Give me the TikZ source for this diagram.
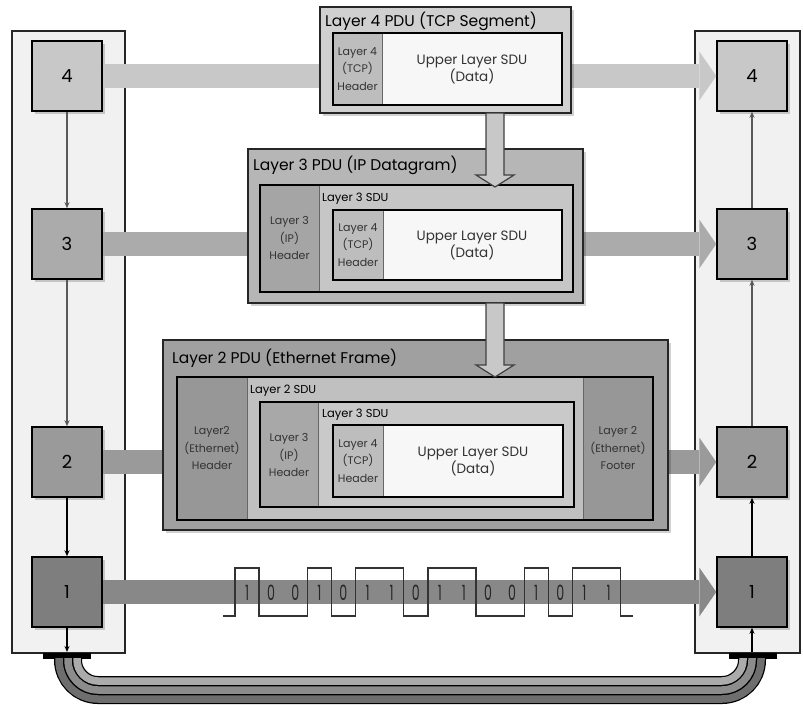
\documentclass[tikz,border=0pt]{standalone}
\usepackage{fontspec}
\setmainfont{Poppins}
\usetikzlibrary{arrows.meta,positioning,shadows}

\definecolor{panelfill}{HTML}{F1F1F1}
\definecolor{cfour}{HTML}{C8C8C8}
\definecolor{cthree}{HTML}{ABABAB}
\definecolor{ctwo}{HTML}{9A9A9A}
\definecolor{cone}{HTML}{7E7E7E}
\definecolor{bandone}{HTML}{888888}
\definecolor{datafill}{HTML}{F7F7F7}
\definecolor{tcphdr}{HTML}{BDBDBD}
\definecolor{segout}{HTML}{D0D0D0}
\definecolor{dgramout}{HTML}{B6B6B6}
\definecolor{dgramsdu}{HTML}{C6C6C6}
\definecolor{iphdr}{HTML}{A5A5A5}
\definecolor{frameout}{HTML}{A0A0A0}
\definecolor{framesdu}{HTML}{C0C0C0}
\definecolor{ethhdr}{HTML}{979797}
\definecolor{iphdrb}{HTML}{A8A8A8}
\definecolor{dgramsdub}{HTML}{C9C9C9}
\definecolor{strandA}{HTML}{6E6E6E}
\definecolor{strandB}{HTML}{8C8C8C}
\definecolor{strandC}{HTML}{ABABAB}

\tikzset{
  panel/.style={draw=black!85, line width=1.2pt, fill=panelfill},
  layerbox/.style={draw=black, line width=1.5pt, minimum width=70pt, minimum height=70pt,
    inner sep=0pt, font=\fontsize{18}{18}\selectfont,
    drop shadow={shadow xshift=2.5pt, shadow yshift=-2.5pt, fill=black, opacity=0.18}},
  band/.style={line width=24pt, -{Triangle[length=17pt, width=49pt, line width=0pt]}},
  grayarrow/.style={draw=black!65, line width=1.2pt, -{Stealth[length=6pt, width=5pt]}},
  blackarrow/.style={draw=black, line width=1.1pt, -{Stealth[length=6pt, width=5pt]}},
  pdu/.style={draw=black!85, line width=1.4pt,
    drop shadow={shadow xshift=3pt, shadow yshift=-3pt, fill=black, opacity=0.18}},
  frame/.style={draw=black, line width=1.5pt},
  sep/.style={draw=black!60, line width=1pt},
  title/.style={anchor=west, inner sep=0pt, font=\fontsize{15.5}{17}\selectfont},
  sdulabel/.style={anchor=west, inner sep=0pt, font=\fontsize{11.5}{13}\selectfont},
  hdr/.style={align=center, inner sep=0pt, text=black!80, font=\fontsize{11}{17.5}\selectfont},
  data/.style={align=center, inner sep=0pt, text=black!80, font=\fontsize{13.5}{17}\selectfont},
  blockdown/.style={draw=black!75, line width=1.2pt, fill=cfour},
  bit/.style={inner sep=0pt, text=black!85, font=\fontsize{21}{21}\selectfont}
}

\begin{document}
\begin{tikzpicture}[x=1pt, y=-1pt]
  \useasboundingbox (0,0) rectangle (803,704);

  % side panels
  \draw[panel] (12,31) rectangle (125,653);
  \draw[panel] (695,31) rectangle (800,653);

  % layers left and right
  \node[layerbox, fill=cfour]  (L4) at (67,76)  {4};
  \node[layerbox, fill=cthree] (L3) at (67,244) {3};
  \node[layerbox, fill=ctwo]   (L2) at (67,462) {2};
  \node[layerbox, fill=cone]   (L1) at (67,592) {1};
  \node[layerbox, fill=cfour]  (R4) at (752,76)  {4};
  \node[layerbox, fill=cthree] (R3) at (752,244) {3};
  \node[layerbox, fill=ctwo]   (R2) at (752,462) {2};
  \node[layerbox, fill=cone]   (R1) at (752,592) {1};

  % plugs
  \fill[black] (43,653) rectangle (91,659);
  \fill[black] (729,653) rectangle (777,659);
  \coordinate (Lplug) at (67,652);
  \coordinate (Rplug) at (752,652);

  % arrows inside the panels
  \draw[grayarrow]  (L4) -- (L3);
  \draw[grayarrow]  (L3) -- (L2);
  \draw[blackarrow] (L2) -- (L1);
  \draw[blackarrow] (L1) -- (Lplug);
  \draw[blackarrow] (Rplug) -- (R1);
  \draw[blackarrow] (R1) -- (R2);
  \draw[grayarrow]  (R2) -- (R3);
  \draw[grayarrow]  (R3) -- (R4);

  % wide arrows
  \draw[band, cfour]   (L4) -- (R4);
  \draw[band, cthree]  (L3) -- (R3);
  \draw[band, ctwo]    (L2) -- (R2);
  \draw[band, bandone] (L1) -- (R1);

  % layer 4 PDU
  \draw[pdu, fill=segout] (320,7) rectangle (571,113);
  \node[title] (T4) at (325,21) {Layer 4 PDU (TCP Segment)};
  \fill[datafill] (333,33) rectangle (562,105);
  \fill[tcphdr] (333,33) rectangle (382,105);
  \draw[sep] (382,33) -- (382,105);
  \draw[frame] (333,33) rectangle (562,105);
  \node[hdr]  (H4a) at (357.5,69) {Layer 4\\(TCP)\\Header};
  \node[data] (D4a) at (472,69) {Upper Layer SDU\\(Data)};

  % layer 3 PDU
  \draw[pdu, fill=dgramout] (248,149) rectangle (583,303);
  \node[title] (T3) at (253,165) {Layer 3 PDU (IP Datagram)};
  \fill[dgramsdu] (260,185) rectangle (573,292);
  \fill[iphdr] (260,185) rectangle (319,292);
  \draw[sep] (319,185) -- (319,292);
  \draw[frame] (260,185) rectangle (573,292);
  \node[hdr] (H3a) at (289.5,238) {Layer 3\\(IP)\\Header};
  \node[sdulabel] (S3a) at (322,199) {Layer 3 SDU};
  \fill[datafill] (333,210) rectangle (562,280);
  \fill[tcphdr] (333,210) rectangle (383,280);
  \draw[sep] (383,210) -- (383,280);
  \draw[frame] (333,210) rectangle (562,280);
  \node[hdr]  (H4b) at (358,245) {Layer 4\\(TCP)\\Header};
  \node[data] (D4b) at (472,245) {Upper Layer SDU\\(Data)};

  % layer 2 PDU
  \draw[pdu, fill=frameout] (163,340) rectangle (668,530);
  \node[title] (T2) at (172,358) {Layer 2 PDU (Ethernet Frame)};
  \fill[framesdu] (177,377) rectangle (653,520);
  \fill[ethhdr] (177,377) rectangle (247,520);
  \fill[ethhdr] (583,377) rectangle (653,520);
  \draw[sep] (247,377) -- (247,520);
  \draw[sep] (583,377) -- (583,520);
  \draw[frame] (177,377) rectangle (653,520);
  \node[hdr] (H2a) at (212,448) {Layer2\\(Ethernet)\\Header};
  \node[hdr] (F2a) at (618,448) {Layer 2\\(Ethernet)\\Footer};
  \node[sdulabel] (S2a) at (250,391) {Layer 2 SDU};
  \fill[dgramsdub] (260,402) rectangle (574,507);
  \fill[iphdrb] (260,402) rectangle (318,507);
  \draw[sep] (318,402) -- (318,507);
  \draw[frame] (260,402) rectangle (574,507);
  \node[hdr] (H3b) at (289,455) {Layer 3\\(IP)\\Header};
  \node[sdulabel] (S3b) at (322,415) {Layer 3 SDU};
  \fill[datafill] (333,425) rectangle (563,497);
  \fill[tcphdr] (333,425) rectangle (383,497);
  \draw[sep] (383,425) -- (383,497);
  \draw[frame] (333,425) rectangle (563,497);
  \node[hdr]  (H4c) at (358,461) {Layer 4\\(TCP)\\Header};
  \node[data] (D4c) at (473,461) {Upper Layer SDU\\(Data)};

  % encapsulation arrows
  \draw[blockdown] (486,113) -- (486,175) -- (476,175) -- (495,187) -- (514,175) -- (504,175) -- (504,113) -- cycle;
  \draw[blockdown] (486,303) -- (486,365) -- (476,365) -- (495,377) -- (514,365) -- (504,365) -- (504,303) -- cycle;

  % bit stream
  \draw[black!80, line width=1.4pt] (223,616) -| (235,568) -| (259.1,616) -| (307.3,568)
    -| (331.4,616) -| (355.5,568) -| (403.7,616) -| (427.8,568) -| (476,616)
    -| (524.2,568) -| (548.3,616) -| (572.4,568) -| (620.6,616) -- (633,616);
  \foreach \b [count=\i] in {1,0,0,1,0,1,1,0,1,1,0,0,1,0,1,1}
    \node[bit] (bit\i) at ({235+24.1*(\i-0.5)},593) {\scalebox{0.6}[1]{\b}};

  % cable
  \draw[black, line width=28pt, rounded corners=30pt] (68,658) -- (68,690) -- (752,690) -- (752,658);
  \foreach \d/\r/\c in {-9/39/strandA, 0/30/strandB, 9/21/strandC}
    \draw[\c, line width=7.5pt, rounded corners=\r pt]
      (68+\d,658) -- (68+\d,690-\d) -- (752-\d,690-\d) -- (752-\d,658);
\end{tikzpicture}
\end{document}
